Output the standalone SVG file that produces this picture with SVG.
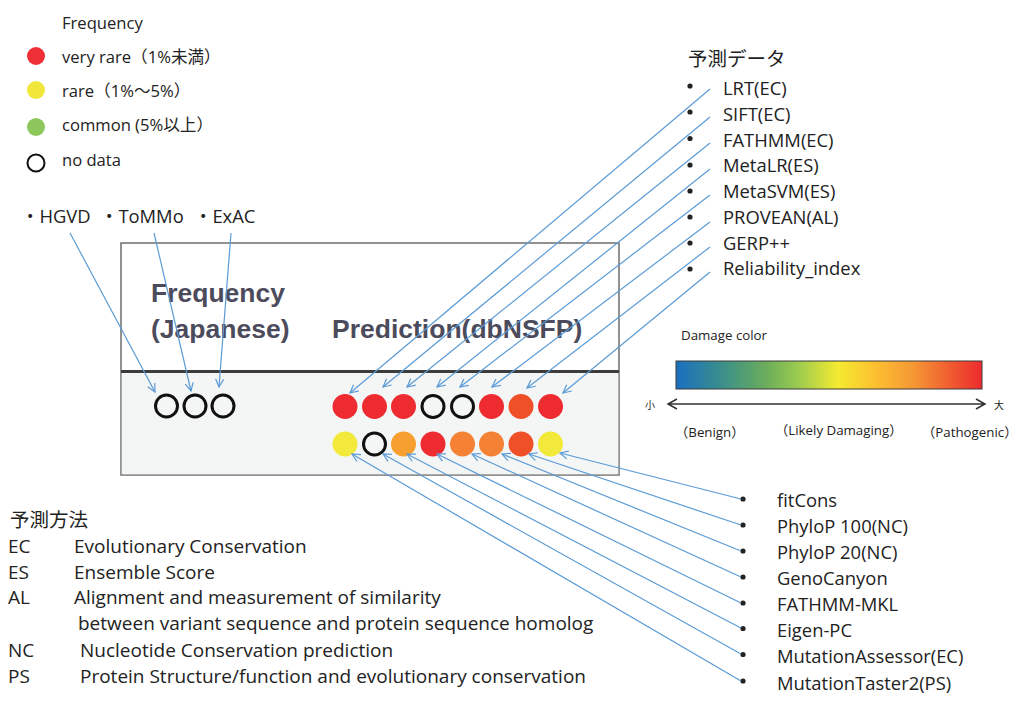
<svg xmlns="http://www.w3.org/2000/svg" width="1017" height="708" viewBox="0 0 1017 708">
<style>
.t{font-family:"Open Sans","Noto Sans CJK JP",sans-serif;fill:#222}
.lg{font-size:16.6px}
.ls{font-size:18.4px}
.ml{font-size:19px}
.jp{font-family:"Noto Sans CJK JP",sans-serif;fill:#222;font-size:19.5px}
.hd{font-family:"Liberation Sans",Arial,sans-serif;font-weight:bold;font-size:26.5px;fill:#4c4b5c}
.sm{font-size:13.3px}
.cn{stroke:#5b9bd5;stroke-width:1.2;fill:none;marker-end:url(#ah)}
.em{fill:none;stroke:#111;stroke-width:3}
.bl{fill:#222}
.r{fill:#ee2b30}.o{fill:#f05028}.y{fill:#f2e93a}.a{fill:#f7a02f}.m{fill:#f58134}
</style>
<defs>
<marker id="ah" viewBox="0 0 10 10" refX="9" refY="5" markerWidth="10" markerHeight="10" markerUnits="userSpaceOnUse" orient="auto">
<path d="M1,1 L9,5 L1,9" fill="none" stroke="#5b9bd5" stroke-width="1.2"/>
</marker>
<linearGradient id="dg" x1="0" y1="0" x2="1" y2="0">
<stop offset="0" stop-color="#1a6fc0"/>
<stop offset="0.15" stop-color="#3a8f8a"/>
<stop offset="0.3" stop-color="#6eae5a"/>
<stop offset="0.4" stop-color="#9ccb50"/>
<stop offset="0.53" stop-color="#f5ea30"/>
<stop offset="0.65" stop-color="#fcc030"/>
<stop offset="0.77" stop-color="#f59a35"/>
<stop offset="0.9" stop-color="#f05a30"/>
<stop offset="1" stop-color="#ee2a2e"/>
</linearGradient>
</defs>
<rect width="1017" height="708" fill="#fff"/>

<g id="legend">
<text class="t lg" x="62" y="29">Frequency</text>
<circle cx="36" cy="56" r="9" fill="#ee2f35"/>
<text class="t lg" x="62" y="63">very rare（1%未満）</text>
<circle cx="36" cy="90" r="9" fill="#f0e73a"/>
<text class="t lg" x="62" y="97">rare（1%～5%）</text>
<circle cx="36" cy="127" r="9" fill="#8dc75b"/>
<text class="t lg" x="62" y="131">common (5%以上）</text>
<circle cx="36" cy="163" r="8.5" fill="none" stroke="#111" stroke-width="2"/>
<text class="t lg" x="62" y="166">no data</text>
</g>

<g id="freq-sources">
<text class="t ls" x="21" y="223">・HGVD</text>
<text class="t ls" x="100" y="223">・ToMMo</text>
<text class="t ls" x="194" y="223">・ExAC</text>
</g>

<g id="panel">
<rect x="121" y="243" width="498" height="232" fill="#fff" stroke="#6e6e6e" stroke-width="1.5"/>
<rect x="121.75" y="372" width="496.5" height="102.25" fill="#f4f5f5"/>
<line x1="121" y1="371.5" x2="619" y2="371.5" stroke="#3c3c3c" stroke-width="2.8"/>
<text class="hd" x="151" y="302">Frequency</text>
<text class="hd" x="151" y="338">(Japanese)</text>
<text class="hd" x="332" y="338">Prediction(dbNSFP)</text>
</g>

<g id="freq-circles">
<circle class="em" cx="166.5" cy="406" r="11"/>
<circle class="em" cx="195" cy="406" r="11"/>
<circle class="em" cx="223" cy="406" r="11"/>
</g>

<g id="pred-row1">
<circle class="r" cx="345" cy="406.5" r="12.5"/>
<circle class="r" cx="374.5" cy="406.5" r="12.5"/>
<circle class="r" cx="403.5" cy="406.5" r="12.5"/>
<circle class="em" cx="433" cy="406.5" r="11"/>
<circle class="em" cx="462.5" cy="406.5" r="11"/>
<circle class="r" cx="491.5" cy="406.5" r="12.5"/>
<circle class="o" cx="521" cy="406.5" r="12.5"/>
<circle class="r" cx="550.5" cy="406.5" r="12.5"/>
</g>

<g id="pred-row2">
<circle class="y" cx="345" cy="444" r="12.5"/>
<circle class="em" cx="374.5" cy="444" r="11"/>
<circle class="a" cx="403.5" cy="444" r="12.5"/>
<circle class="r" cx="433" cy="444" r="12.5"/>
<circle class="m" cx="462.5" cy="444" r="12.5"/>
<circle class="m" cx="491.5" cy="444" r="12.5"/>
<circle class="o" cx="521" cy="444" r="12.5"/>
<circle class="y" cx="550.5" cy="444" r="12.5"/>
</g>

<g id="pred-data-list">
<text class="jp" x="688" y="66">予測データ</text>
<g class="bl">
<circle cx="690" cy="86" r="2.6"/>
<circle cx="690" cy="112" r="2.6"/>
<circle cx="690" cy="138.5" r="2.6"/>
<circle cx="690" cy="165" r="2.6"/>
<circle cx="690" cy="191" r="2.6"/>
<circle cx="690" cy="217" r="2.6"/>
<circle cx="690" cy="243" r="2.6"/>
<circle cx="690" cy="269" r="2.6"/>
</g>
<g class="t ls">
<text x="723" y="95">LRT(EC)</text>
<text x="723" y="121">SIFT(EC)</text>
<text x="723" y="147">FATHMM(EC)</text>
<text x="723" y="172">MetaLR(ES)</text>
<text x="723" y="198">MetaSVM(ES)</text>
<text x="723" y="224">PROVEAN(AL)</text>
<text x="723" y="250">GERP++</text>
<text x="723" y="275">Reliability_index</text>
</g>
</g>

<g id="damage-color">
<text class="t sm" x="681" y="340">Damage color</text>
<rect x="676" y="361" width="306" height="28" fill="url(#dg)" stroke="#3a3a3a" stroke-width="1"/>
<path d="M668,404 H985 M677,399 L668,404 L677,409 M976,399 L985,404 L976,409" fill="none" stroke="#333" stroke-width="1.5"/>
<text class="t" x="650" y="408.5" font-size="10" text-anchor="middle">小</text>
<text class="t" x="999" y="408.5" font-size="10" text-anchor="middle">大</text>
<text class="t sm" x="675" y="437">（Benign）</text>
<text class="t sm" x="775" y="435">（Likely Damaging）</text>
<text class="t sm" x="922" y="437">（Pathogenic）</text>
</g>

<g id="bottom-list">
<g class="bl">
<circle cx="743" cy="499" r="2.6"/>
<circle cx="743" cy="525" r="2.6"/>
<circle cx="743" cy="551" r="2.6"/>
<circle cx="743" cy="577" r="2.6"/>
<circle cx="743" cy="603" r="2.6"/>
<circle cx="743" cy="628.5" r="2.6"/>
<circle cx="743" cy="654.5" r="2.6"/>
<circle cx="743" cy="681" r="2.6"/>
</g>
<g class="t ls">
<text x="777" y="507">fitCons</text>
<text x="777" y="533">PhyloP 100(NC)</text>
<text x="777" y="559">PhyloP 20(NC)</text>
<text x="777" y="585">GenoCanyon</text>
<text x="777" y="611">FATHMM-MKL</text>
<text x="777" y="637">Eigen-PC</text>
<text x="777" y="663">MutationAssessor(EC)</text>
<text x="777" y="690">MutationTaster2(PS)</text>
</g>
</g>

<g id="method-legend">
<text class="jp" x="10" y="527">予測方法</text>
<g class="t ml">
<text x="8" y="553">EC</text><text x="74" y="553">Evolutionary Conservation</text>
<text x="8" y="579">ES</text><text x="74" y="579">Ensemble Score</text>
<text x="8" y="604">AL</text><text x="74" y="604">Alignment and measurement of similarity</text>
<text x="78" y="630">between variant sequence and protein sequence homolog</text>
<text x="8" y="657">NC</text><text x="80" y="657">Nucleotide Conservation prediction</text>
<text x="8" y="683">PS</text><text x="80" y="683">Protein Structure/function and evolutionary conservation</text>
</g>
</g>

<g id="connectors">
<line class="cn" x1="70" y1="233" x2="155" y2="392"/>
<line class="cn" x1="154" y1="233" x2="191" y2="391"/>
<line class="cn" x1="231" y1="233" x2="219" y2="387"/>
<line class="cn" x1="710" y1="89" x2="350" y2="393"/>
<line class="cn" x1="710" y1="117" x2="383" y2="387"/>
<line class="cn" x1="710" y1="143" x2="407" y2="387"/>
<line class="cn" x1="710" y1="169" x2="437" y2="387"/>
<line class="cn" x1="710" y1="195" x2="460" y2="387"/>
<line class="cn" x1="710" y1="222" x2="492" y2="387"/>
<line class="cn" x1="710" y1="247" x2="527" y2="388"/>
<line class="cn" x1="710" y1="272" x2="563" y2="393"/>
<line class="cn" x1="741" y1="499" x2="560" y2="453"/>
<line class="cn" x1="741" y1="525" x2="529" y2="454"/>
<line class="cn" x1="741" y1="551" x2="502" y2="454"/>
<line class="cn" x1="741" y1="577" x2="472" y2="454"/>
<line class="cn" x1="741" y1="603" x2="437" y2="454"/>
<line class="cn" x1="741" y1="628" x2="407" y2="454"/>
<line class="cn" x1="741" y1="654" x2="383" y2="454"/>
<line class="cn" x1="741" y1="681" x2="352" y2="454"/>
</g>
</svg>
